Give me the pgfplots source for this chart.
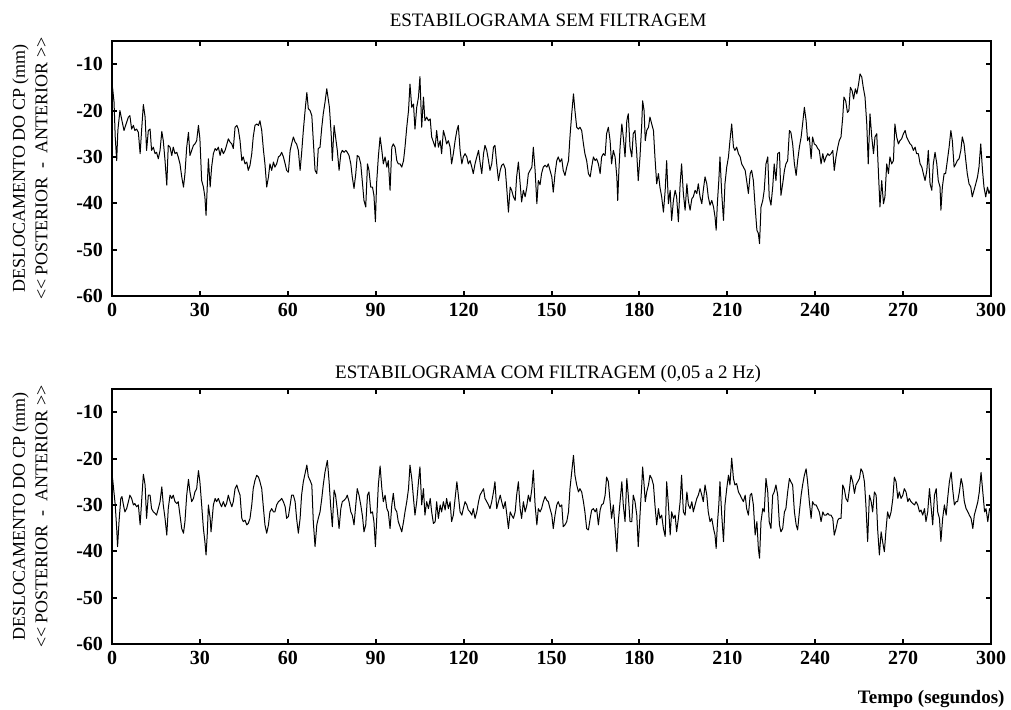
\documentclass[border=0pt]{standalone}
\usepackage{fontspec}
\setmainfont{Liberation Serif}
\usepackage{pgfplots}
\usepackage{pgfplotstable}
\pgfplotsset{compat=1.18}

% Raw stabilogram (anterior-posterior CP displacement, mm)
\pgfplotstableread[row sep=\\]{
t y\\
0.0 -18.0\\ 0.2 -15.1\\ 0.7 -18.2\\ 1.1 -25.7\\ 1.6 -30.8\\ 2.0 -24.3\\ 2.7 -20.0\\ 3.4 -22.2\\ 4.1 -24.3\\ 4.8 -22.9\\
5.6 -21.4\\ 6.1 -21.1\\ 6.7 -24.0\\ 7.3 -23.2\\ 7.8 -24.3\\ 8.4 -24.0\\ 9.0 -24.7\\ 9.6 -29.3\\ 10.1 -24.3\\ 10.7 -18.7\\
11.3 -21.4\\ 11.8 -28.6\\ 12.4 -24.3\\ 13.0 -24.0\\ 13.5 -28.6\\ 14.1 -27.9\\ 14.7 -29.3\\ 15.2 -29.0\\ 15.8 -30.4\\ 16.4 -28.6\\
17.0 -24.5\\ 17.5 -26.5\\ 18.1 -30.8\\ 18.7 -36.1\\ 19.2 -27.5\\ 19.8 -27.9\\ 20.4 -29.7\\ 20.9 -27.9\\ 21.5 -29.3\\ 22.1 -29.0\\
22.6 -30.0\\ 23.2 -31.5\\ 23.8 -34.3\\ 24.4 -36.5\\ 24.9 -33.6\\ 25.5 -27.9\\ 26.1 -24.7\\ 26.6 -29.7\\ 27.2 -28.6\\ 27.8 -27.5\\
28.3 -27.2\\ 28.9 -26.5\\ 29.5 -23.2\\ 30.0 -26.1\\ 30.6 -35.1\\ 31.2 -36.5\\ 31.7 -38.6\\ 32.1 -42.6\\ 32.5 -36.5\\ 32.9 -30.4\\
33.5 -36.5\\ 34.0 -32.2\\ 34.6 -29.3\\ 35.2 -28.2\\ 35.7 -28.6\\ 36.3 -27.9\\ 36.9 -29.7\\ 37.4 -28.2\\ 38.0 -29.3\\ 38.6 -28.6\\
39.1 -27.5\\ 39.7 -26.1\\ 40.3 -26.8\\ 40.9 -27.2\\ 41.4 -28.2\\ 42.0 -23.6\\ 42.6 -23.2\\ 43.1 -24.0\\ 43.7 -26.5\\ 44.3 -30.8\\
44.8 -30.0\\ 45.4 -31.5\\ 46.0 -31.1\\ 46.5 -32.9\\ 47.1 -31.8\\ 47.7 -29.3\\ 48.2 -25.7\\ 48.8 -23.2\\ 49.4 -22.9\\ 50.0 -23.2\\
50.5 -22.2\\ 51.1 -24.3\\ 51.7 -28.6\\ 52.2 -31.5\\ 52.8 -36.5\\ 53.4 -34.3\\ 53.9 -31.5\\ 54.5 -32.9\\ 55.1 -31.1\\ 55.6 -32.2\\
56.2 -31.5\\ 56.8 -30.0\\ 57.4 -29.7\\ 57.9 -29.0\\ 58.5 -30.0\\ 59.1 -31.5\\ 59.6 -32.9\\ 60.2 -33.3\\ 60.8 -28.6\\ 61.3 -27.2\\
61.9 -25.7\\ 62.5 -26.8\\ 63.0 -27.2\\ 63.6 -28.6\\ 64.2 -32.9\\ 64.7 -29.3\\ 65.3 -24.3\\ 65.9 -20.0\\ 66.5 -16.1\\ 67.0 -19.6\\
67.6 -20.0\\ 68.2 -21.1\\ 68.7 -26.5\\ 69.3 -32.9\\ 69.9 -33.6\\ 70.4 -28.2\\ 71.0 -27.9\\ 71.6 -23.6\\ 72.1 -20.7\\ 72.7 -18.2\\
73.3 -15.3\\ 74.2 -19.3\\ 74.8 -25.0\\ 75.2 -30.8\\ 75.8 -23.2\\ 76.3 -25.7\\ 76.9 -28.6\\ 77.5 -32.9\\ 78.1 -29.3\\ 78.6 -28.6\\
79.2 -29.0\\ 79.8 -28.6\\ 80.3 -29.0\\ 80.9 -29.7\\ 81.5 -31.5\\ 82.0 -34.3\\ 82.6 -36.8\\ 83.2 -33.6\\ 83.7 -29.7\\ 84.3 -30.0\\
84.9 -31.5\\ 85.5 -35.8\\ 86.0 -39.4\\ 86.6 -40.8\\ 87.2 -31.5\\ 87.7 -32.9\\ 88.3 -36.5\\ 88.9 -36.5\\ 89.4 -38.3\\ 89.9 -44.0\\
90.3 -35.8\\ 90.9 -30.0\\ 91.5 -25.7\\ 92.1 -28.6\\ 92.6 -31.5\\ 93.2 -30.0\\ 93.8 -32.2\\ 94.3 -30.8\\ 94.9 -37.2\\ 95.5 -27.9\\
96.0 -27.2\\ 96.6 -27.9\\ 97.2 -30.8\\ 97.7 -31.5\\ 98.3 -31.5\\ 98.9 -32.2\\ 99.5 -30.8\\ 100.0 -27.9\\ 100.6 -23.6\\ 101.2 -20.0\\
101.7 -14.3\\ 102.3 -19.3\\ 102.9 -18.6\\ 103.4 -24.0\\ 104.0 -19.3\\ 104.6 -17.1\\ 105.1 -12.7\\ 105.7 -23.6\\ 106.3 -17.1\\ 106.8 -22.2\\
107.4 -21.4\\ 108.0 -22.2\\ 108.6 -21.8\\ 109.1 -25.7\\ 109.7 -26.8\\ 110.3 -27.9\\ 110.8 -24.3\\ 111.4 -27.9\\ 112.0 -26.5\\ 112.5 -29.3\\
113.1 -24.3\\ 113.7 -25.7\\ 114.2 -27.2\\ 114.8 -26.5\\ 115.4 -27.9\\ 115.9 -31.5\\ 116.5 -29.3\\ 117.1 -26.5\\ 117.7 -24.3\\ 118.2 -23.2\\
118.8 -28.6\\ 119.4 -31.5\\ 119.9 -30.0\\ 120.5 -29.3\\ 121.1 -30.0\\ 121.6 -31.5\\ 122.2 -30.8\\ 122.8 -32.2\\ 123.3 -33.6\\ 123.9 -31.5\\
124.5 -30.0\\ 125.1 -28.6\\ 125.6 -31.1\\ 126.2 -33.6\\ 126.8 -29.3\\ 127.3 -27.5\\ 127.9 -28.6\\ 128.5 -30.8\\ 129.0 -32.9\\ 129.6 -31.5\\
130.2 -27.9\\ 130.7 -27.5\\ 131.3 -31.5\\ 131.9 -35.1\\ 132.5 -32.9\\ 133.0 -31.8\\ 133.6 -31.5\\ 134.2 -32.5\\ 134.7 -36.5\\ 135.3 -41.9\\
135.9 -36.5\\ 136.4 -37.2\\ 137.0 -38.6\\ 137.6 -39.4\\ 138.1 -34.3\\ 138.7 -31.1\\ 139.3 -35.8\\ 139.8 -39.7\\ 140.4 -37.2\\ 141.0 -38.6\\
141.6 -36.5\\ 142.1 -33.6\\ 142.7 -32.9\\ 143.3 -32.2\\ 143.8 -27.9\\ 144.4 -32.9\\ 145.0 -40.1\\ 145.5 -35.1\\ 146.1 -36.0\\ 146.6 -33.6\\
147.2 -32.2\\ 147.8 -31.8\\ 148.4 -32.2\\ 148.9 -31.5\\ 149.5 -32.9\\ 150.1 -34.3\\ 150.6 -37.6\\ 151.2 -33.6\\ 151.8 -30.8\\ 152.3 -30.0\\
152.9 -31.1\\ 153.5 -30.4\\ 154.0 -32.9\\ 154.6 -34.0\\ 155.2 -32.2\\ 155.8 -30.8\\ 156.3 -25.7\\ 156.9 -20.7\\ 157.5 -16.4\\ 158.0 -20.0\\
158.6 -23.6\\ 159.2 -24.0\\ 159.7 -23.6\\ 160.3 -24.3\\ 160.9 -27.2\\ 161.4 -29.3\\ 162.0 -30.8\\ 162.6 -33.6\\ 163.2 -34.3\\ 163.7 -32.2\\
164.3 -30.0\\ 164.9 -30.8\\ 165.4 -30.4\\ 166.0 -31.5\\ 166.6 -33.6\\ 167.1 -30.0\\ 167.7 -29.3\\ 168.3 -29.7\\ 168.8 -25.0\\ 169.4 -23.6\\
170.0 -26.5\\ 170.5 -31.5\\ 171.1 -28.6\\ 171.7 -30.0\\ 172.3 -34.3\\ 172.6 -39.4\\ 173.0 -32.9\\ 173.4 -27.9\\ 174.0 -22.9\\ 174.5 -25.7\\
175.1 -30.0\\ 175.7 -22.2\\ 176.2 -20.7\\ 176.8 -27.9\\ 177.4 -30.0\\ 177.9 -25.0\\ 178.5 -24.3\\ 179.1 -29.3\\ 179.6 -35.1\\ 180.2 -30.0\\
180.8 -22.9\\ 181.1 -17.9\\ 181.6 -20.0\\ 182.0 -26.5\\ 182.5 -24.3\\ 183.1 -23.6\\ 183.6 -21.4\\ 184.2 -22.9\\ 184.8 -24.3\\ 185.3 -30.0\\
185.9 -35.8\\ 186.5 -33.6\\ 187.0 -36.5\\ 187.6 -38.6\\ 188.2 -41.9\\ 188.8 -37.2\\ 189.3 -30.8\\ 189.9 -40.1\\ 190.5 -37.2\\ 191.0 -43.7\\
191.6 -39.4\\ 192.2 -37.2\\ 192.7 -38.6\\ 193.3 -44.0\\ 193.9 -35.8\\ 194.4 -31.5\\ 195.0 -37.9\\ 195.6 -41.5\\ 196.2 -35.8\\ 196.7 -39.4\\
197.3 -41.5\\ 197.9 -39.0\\ 198.4 -38.6\\ 199.0 -37.2\\ 199.6 -37.9\\ 200.1 -35.8\\ 200.7 -38.6\\ 201.3 -40.1\\ 201.8 -37.2\\ 202.4 -34.3\\
203.0 -35.8\\ 203.5 -38.6\\ 204.1 -40.4\\ 204.7 -39.4\\ 205.3 -40.8\\ 205.8 -42.9\\ 206.2 -45.8\\ 206.6 -40.1\\ 207.1 -35.1\\ 207.5 -30.0\\
208.1 -37.9\\ 208.7 -43.7\\ 209.2 -35.8\\ 209.8 -32.2\\ 210.4 -30.0\\ 210.9 -26.5\\ 211.5 -22.9\\ 212.1 -27.9\\ 212.6 -28.6\\ 213.2 -27.9\\
213.8 -29.3\\ 214.4 -30.0\\ 214.9 -31.5\\ 215.5 -32.2\\ 216.1 -32.9\\ 216.6 -35.1\\ 217.2 -37.9\\ 217.8 -33.6\\ 218.3 -32.9\\ 218.9 -35.1\\
219.5 -40.8\\ 220.1 -45.8\\ 220.6 -46.5\\ 221.0 -48.7\\ 221.5 -40.8\\ 222.1 -39.4\\ 222.6 -37.2\\ 223.2 -31.5\\ 223.8 -30.0\\ 224.3 -38.6\\
224.9 -40.4\\ 225.5 -36.5\\ 226.0 -31.5\\ 226.6 -35.1\\ 227.2 -29.3\\ 227.8 -29.0\\ 228.3 -38.3\\ 228.9 -35.8\\ 229.5 -32.9\\ 230.0 -31.5\\
230.6 -30.8\\ 231.2 -24.3\\ 231.7 -24.7\\ 232.3 -27.2\\ 232.9 -31.5\\ 233.5 -34.0\\ 234.0 -30.8\\ 234.6 -27.9\\ 235.2 -25.7\\ 235.7 -22.9\\
236.3 -19.3\\ 236.9 -22.2\\ 237.4 -26.5\\ 238.0 -25.7\\ 238.6 -30.4\\ 239.1 -25.7\\ 239.7 -27.2\\ 240.3 -27.5\\ 240.9 -28.2\\ 241.4 -28.6\\
242.0 -31.5\\ 242.6 -29.3\\ 243.1 -31.1\\ 243.7 -30.0\\ 244.3 -29.3\\ 244.8 -29.7\\ 245.4 -29.3\\ 246.0 -28.6\\ 246.5 -32.9\\ 247.1 -30.0\\
247.7 -27.9\\ 248.2 -26.5\\ 248.8 -25.7\\ 249.4 -21.4\\ 249.8 -17.1\\ 250.4 -17.9\\ 251.0 -20.4\\ 251.5 -20.0\\ 252.0 -15.0\\ 252.6 -15.7\\
253.1 -17.5\\ 253.7 -15.3\\ 254.2 -16.4\\ 254.8 -14.3\\ 255.3 -12.1\\ 255.9 -12.8\\ 256.4 -15.0\\ 257.0 -17.1\\ 257.6 -22.9\\ 258.1 -31.5\\
258.7 -20.7\\ 259.3 -25.7\\ 259.9 -29.3\\ 260.4 -25.7\\ 261.0 -25.0\\ 261.6 -33.6\\ 262.1 -40.8\\ 262.7 -35.1\\ 263.3 -40.1\\ 263.8 -38.6\\
264.4 -31.5\\ 265.0 -33.6\\ 265.5 -30.0\\ 266.1 -31.5\\ 266.7 -30.8\\ 267.2 -22.9\\ 267.8 -25.7\\ 268.4 -27.2\\ 268.9 -26.5\\ 269.5 -26.1\\
270.1 -25.0\\ 270.7 -24.3\\ 271.2 -25.7\\ 271.8 -26.5\\ 272.4 -27.2\\ 272.9 -27.5\\ 273.5 -28.6\\ 274.1 -27.9\\ 274.6 -29.3\\ 275.2 -29.3\\
275.8 -31.5\\ 276.4 -32.2\\ 276.9 -33.6\\ 277.5 -35.1\\ 278.1 -32.9\\ 278.6 -28.6\\ 279.2 -35.8\\ 279.8 -37.2\\ 280.3 -31.5\\ 280.9 -29.0\\
281.5 -31.5\\ 282.0 -35.1\\ 282.6 -36.5\\ 282.9 -41.5\\ 283.4 -36.5\\ 284.0 -33.6\\ 284.5 -33.6\\ 285.1 -30.8\\ 285.7 -27.9\\ 286.3 -24.3\\
286.8 -26.5\\ 287.4 -32.2\\ 288.0 -31.5\\ 288.5 -30.8\\ 289.1 -30.4\\ 289.7 -28.6\\ 290.2 -25.7\\ 290.8 -27.2\\ 291.4 -30.8\\ 291.9 -33.6\\
292.5 -35.8\\ 293.1 -36.5\\ 293.6 -38.6\\ 294.2 -37.2\\ 294.8 -35.8\\ 295.4 -34.3\\ 295.9 -32.2\\ 296.5 -27.2\\ 297.1 -32.9\\ 297.6 -36.5\\
298.2 -38.6\\ 298.8 -36.5\\ 299.3 -37.9\\ 299.7 -37.2\\ 300.0 -37.0\\
}\rawdata

% Band-pass filtered stabilogram (0.05 to 2 Hz)
\pgfplotstableread[row sep=\\]{
t y\\
0.0 -25.0\\ 0.2 -24.3\\ 1.1 -30.0\\ 1.6 -35.1\\ 1.9 -39.0\\ 2.4 -33.6\\ 3.0 -28.6\\ 3.4 -28.2\\ 3.9 -30.0\\ 4.4 -31.5\\
5.0 -30.8\\ 5.6 -29.3\\ 6.1 -27.9\\ 6.7 -28.6\\ 7.3 -30.0\\ 7.8 -29.7\\ 8.4 -30.4\\ 9.0 -30.0\\ 9.6 -34.3\\ 10.1 -29.3\\
10.7 -23.4\\ 11.3 -25.7\\ 11.8 -32.9\\ 12.4 -27.9\\ 13.0 -27.9\\ 13.5 -30.8\\ 14.1 -31.5\\ 14.7 -31.8\\ 15.2 -32.2\\ 15.8 -30.8\\
16.4 -29.3\\ 17.0 -26.1\\ 17.5 -30.0\\ 18.1 -32.9\\ 18.7 -36.5\\ 19.2 -30.8\\ 19.8 -27.9\\ 20.4 -28.6\\ 20.9 -27.9\\ 21.5 -29.3\\
22.1 -29.7\\ 22.6 -29.3\\ 23.2 -32.2\\ 23.8 -35.1\\ 24.4 -36.1\\ 24.9 -33.6\\ 25.5 -27.9\\ 26.1 -24.5\\ 26.6 -27.2\\ 27.2 -29.3\\
27.8 -28.6\\ 28.3 -27.2\\ 28.9 -26.5\\ 29.5 -22.6\\ 30.0 -25.0\\ 30.6 -30.0\\ 31.2 -35.1\\ 31.7 -37.9\\ 32.1 -40.8\\ 32.5 -36.5\\
32.9 -30.0\\ 33.5 -32.9\\ 33.8 -35.8\\ 34.3 -32.2\\ 34.6 -30.0\\ 35.2 -28.6\\ 35.7 -29.3\\ 36.3 -28.6\\ 36.9 -29.7\\ 37.4 -30.4\\
38.0 -29.3\\ 38.6 -30.4\\ 39.1 -29.7\\ 39.7 -27.9\\ 40.3 -29.3\\ 40.9 -30.4\\ 41.4 -29.3\\ 42.0 -26.5\\ 42.6 -25.7\\ 43.1 -26.8\\
43.7 -27.9\\ 44.3 -32.9\\ 44.8 -33.6\\ 45.4 -33.3\\ 46.0 -34.3\\ 46.5 -34.0\\ 47.1 -32.9\\ 47.7 -30.0\\ 48.2 -26.5\\ 48.8 -24.7\\
49.4 -23.6\\ 50.0 -24.0\\ 50.5 -25.0\\ 51.1 -26.5\\ 51.7 -30.8\\ 52.2 -34.3\\ 52.8 -36.1\\ 53.4 -34.3\\ 53.9 -31.5\\ 54.5 -30.8\\
55.1 -31.5\\ 55.6 -31.5\\ 56.2 -30.0\\ 56.8 -29.3\\ 57.4 -29.0\\ 57.9 -28.6\\ 58.5 -29.3\\ 59.1 -30.4\\ 59.6 -32.9\\ 60.2 -32.5\\
60.8 -30.0\\ 61.3 -27.9\\ 61.9 -27.9\\ 62.5 -29.3\\ 63.0 -32.9\\ 63.6 -36.1\\ 64.2 -32.9\\ 64.7 -27.9\\ 65.3 -25.0\\ 65.9 -23.2\\
66.5 -21.4\\ 67.0 -23.9\\ 67.6 -24.7\\ 68.2 -25.7\\ 68.7 -33.6\\ 69.3 -39.0\\ 69.9 -34.3\\ 70.4 -32.9\\ 71.0 -31.5\\ 71.6 -28.6\\
72.1 -25.7\\ 72.7 -22.9\\ 73.5 -20.4\\ 74.1 -25.0\\ 74.6 -30.0\\ 75.2 -34.7\\ 75.8 -26.8\\ 76.3 -27.9\\ 76.9 -31.1\\ 77.5 -35.1\\
78.1 -30.8\\ 78.6 -29.3\\ 79.2 -29.0\\ 79.8 -28.6\\ 80.3 -27.9\\ 80.9 -29.3\\ 81.5 -31.5\\ 82.0 -32.2\\ 82.6 -34.3\\ 83.2 -30.0\\
83.7 -26.5\\ 84.3 -27.9\\ 84.9 -30.0\\ 85.5 -32.5\\ 86.0 -35.8\\ 86.6 -34.3\\ 87.2 -27.9\\ 87.7 -27.2\\ 88.3 -31.8\\ 88.9 -31.5\\
89.4 -33.6\\ 89.9 -39.0\\ 90.3 -33.6\\ 90.9 -25.7\\ 91.5 -21.6\\ 92.1 -26.5\\ 92.6 -29.3\\ 93.2 -27.9\\ 93.8 -30.8\\ 94.3 -31.5\\
94.9 -35.1\\ 95.5 -30.0\\ 96.0 -27.5\\ 96.6 -30.8\\ 97.2 -31.5\\ 97.7 -33.6\\ 98.3 -34.7\\ 98.9 -35.8\\ 99.5 -33.6\\ 100.0 -31.5\\
100.6 -29.3\\ 101.2 -26.5\\ 101.7 -21.4\\ 102.3 -24.3\\ 102.9 -28.6\\ 103.4 -32.2\\ 104.0 -29.3\\ 104.6 -25.0\\ 105.1 -21.8\\ 105.7 -30.0\\
106.3 -26.5\\ 106.8 -32.2\\ 107.4 -29.3\\ 108.0 -30.8\\ 108.6 -28.6\\ 109.1 -31.5\\ 109.7 -34.0\\ 110.3 -33.6\\ 110.8 -29.3\\ 111.4 -32.9\\
112.0 -30.0\\ 112.5 -31.5\\ 113.1 -29.3\\ 113.7 -31.1\\ 114.2 -28.6\\ 114.8 -30.8\\ 115.4 -29.3\\ 115.9 -33.6\\ 116.5 -32.2\\ 117.1 -28.6\\
117.7 -25.0\\ 118.2 -27.9\\ 118.8 -31.5\\ 119.4 -32.2\\ 119.9 -30.8\\ 120.5 -29.3\\ 121.1 -30.0\\ 121.6 -31.1\\ 122.2 -31.5\\ 122.8 -32.2\\
123.3 -30.8\\ 123.9 -32.9\\ 124.5 -31.5\\ 125.1 -29.3\\ 125.6 -27.9\\ 126.2 -27.2\\ 126.8 -26.5\\ 127.3 -28.6\\ 127.9 -29.3\\ 128.5 -30.0\\
129.0 -30.8\\ 129.6 -29.3\\ 130.2 -27.2\\ 130.7 -25.0\\ 131.3 -30.8\\ 131.9 -29.3\\ 132.5 -27.9\\ 133.0 -29.3\\ 133.6 -30.8\\ 134.2 -29.3\\
134.7 -31.8\\ 135.3 -35.1\\ 135.9 -31.5\\ 136.4 -32.2\\ 137.0 -32.9\\ 137.6 -31.5\\ 138.1 -27.9\\ 138.7 -25.0\\ 139.3 -30.8\\ 139.8 -32.9\\
140.4 -29.3\\ 141.0 -31.5\\ 141.6 -30.0\\ 142.1 -27.9\\ 142.7 -29.3\\ 143.3 -26.5\\ 143.8 -22.5\\ 144.4 -30.0\\ 145.0 -34.3\\ 145.5 -30.8\\
146.1 -31.5\\ 146.6 -30.8\\ 147.2 -29.3\\ 147.8 -28.2\\ 148.4 -29.0\\ 148.9 -29.3\\ 149.5 -30.8\\ 150.1 -32.2\\ 150.6 -35.1\\ 151.2 -32.2\\
151.8 -30.0\\ 152.3 -29.3\\ 152.9 -30.4\\ 153.5 -30.0\\ 154.0 -34.7\\ 154.6 -34.3\\ 155.2 -33.6\\ 155.8 -31.5\\ 156.3 -26.5\\ 156.9 -22.9\\
157.5 -19.3\\ 158.0 -23.6\\ 158.6 -25.7\\ 159.2 -27.2\\ 159.7 -26.5\\ 160.3 -27.2\\ 160.9 -29.3\\ 161.4 -31.5\\ 162.0 -35.1\\ 162.6 -35.4\\
163.2 -32.9\\ 163.7 -31.1\\ 164.3 -30.8\\ 164.9 -31.5\\ 165.4 -30.8\\ 166.0 -34.3\\ 166.6 -31.1\\ 167.1 -30.0\\ 167.7 -29.7\\ 168.3 -27.9\\
168.8 -24.0\\ 169.4 -25.0\\ 170.0 -29.3\\ 170.5 -32.9\\ 171.1 -30.0\\ 171.7 -35.1\\ 172.3 -40.1\\ 172.8 -33.6\\ 173.4 -29.3\\ 174.0 -25.0\\
174.5 -30.0\\ 175.1 -33.6\\ 175.7 -24.3\\ 176.2 -27.9\\ 176.8 -33.6\\ 177.4 -33.6\\ 177.9 -27.9\\ 178.5 -29.3\\ 179.1 -32.2\\ 179.6 -39.0\\
180.2 -32.2\\ 180.8 -25.7\\ 181.1 -21.8\\ 181.6 -25.7\\ 182.0 -29.3\\ 182.5 -27.2\\ 183.1 -25.7\\ 183.6 -23.6\\ 184.2 -24.3\\ 184.8 -25.7\\
185.3 -30.0\\ 185.9 -34.3\\ 186.5 -30.8\\ 187.0 -32.9\\ 187.6 -32.2\\ 188.2 -35.1\\ 188.8 -36.8\\ 189.3 -25.0\\ 189.9 -30.0\\ 190.5 -36.5\\
191.0 -31.5\\ 191.6 -32.9\\ 192.2 -32.2\\ 192.7 -35.8\\ 193.3 -32.9\\ 193.9 -29.3\\ 194.4 -23.6\\ 195.0 -31.5\\ 195.6 -32.2\\ 196.2 -27.2\\
196.7 -30.0\\ 197.3 -30.8\\ 197.9 -29.3\\ 198.4 -31.5\\ 199.0 -30.0\\ 199.6 -28.6\\ 200.1 -27.9\\ 200.7 -26.5\\ 201.3 -27.9\\ 201.8 -29.3\\
202.4 -25.7\\ 203.0 -27.9\\ 203.5 -31.5\\ 204.1 -33.6\\ 204.7 -32.9\\ 205.3 -35.1\\ 205.8 -36.5\\ 206.2 -39.4\\ 206.6 -34.3\\ 207.1 -30.0\\
207.5 -25.0\\ 208.1 -32.2\\ 208.7 -37.9\\ 209.2 -30.0\\ 209.8 -26.5\\ 210.4 -23.6\\ 210.9 -25.7\\ 211.5 -19.9\\ 212.1 -24.3\\ 212.6 -25.7\\
213.2 -25.4\\ 213.8 -27.2\\ 214.4 -27.9\\ 214.9 -28.6\\ 215.5 -29.3\\ 216.1 -27.9\\ 216.6 -30.8\\ 217.2 -32.2\\ 217.8 -27.9\\ 218.3 -27.5\\
218.9 -30.0\\ 219.5 -36.5\\ 220.1 -33.6\\ 220.6 -39.4\\ 221.0 -41.5\\ 221.5 -33.6\\ 222.1 -30.8\\ 222.6 -31.5\\ 223.2 -24.3\\ 223.8 -27.2\\
224.3 -33.6\\ 224.9 -35.1\\ 225.5 -27.9\\ 226.0 -27.2\\ 226.6 -25.7\\ 227.2 -27.9\\ 227.8 -34.3\\ 228.3 -35.8\\ 228.9 -35.1\\ 229.5 -31.5\\
230.0 -30.8\\ 230.6 -27.2\\ 231.2 -24.3\\ 231.7 -25.0\\ 232.3 -25.7\\ 232.9 -31.5\\ 233.5 -34.3\\ 234.0 -35.4\\ 234.6 -31.5\\ 235.2 -27.9\\
235.7 -25.7\\ 236.3 -23.6\\ 236.9 -22.2\\ 237.4 -25.0\\ 238.0 -29.3\\ 238.6 -32.9\\ 239.1 -29.3\\ 239.7 -30.0\\ 240.3 -30.0\\ 240.9 -30.8\\
241.4 -31.5\\ 242.0 -33.6\\ 242.6 -31.5\\ 243.1 -32.2\\ 243.7 -32.2\\ 244.3 -31.8\\ 244.8 -32.2\\ 245.4 -32.2\\ 246.0 -32.9\\ 246.5 -36.5\\
247.1 -35.1\\ 247.7 -33.3\\ 248.2 -32.9\\ 248.8 -32.9\\ 249.4 -25.7\\ 249.9 -26.5\\ 250.5 -28.6\\ 251.1 -29.3\\ 251.7 -26.5\\ 252.2 -23.6\\
252.8 -25.0\\ 253.4 -27.5\\ 253.9 -25.7\\ 254.5 -25.0\\ 255.1 -24.3\\ 255.6 -22.2\\ 256.2 -22.9\\ 256.8 -25.0\\ 257.3 -30.0\\ 257.9 -37.9\\
258.5 -27.9\\ 259.1 -29.3\\ 259.6 -31.5\\ 260.2 -27.2\\ 260.8 -27.9\\ 261.3 -35.1\\ 261.9 -40.8\\ 262.5 -35.8\\ 263.0 -37.9\\ 263.6 -40.1\\
264.2 -35.1\\ 264.7 -31.5\\ 265.3 -32.9\\ 265.9 -31.5\\ 266.5 -28.6\\ 267.0 -24.0\\ 267.6 -25.0\\ 268.2 -28.6\\ 268.7 -27.2\\ 269.3 -28.6\\
269.9 -27.9\\ 270.4 -26.5\\ 271.0 -27.2\\ 271.6 -29.3\\ 272.1 -28.6\\ 272.7 -29.3\\ 273.3 -29.7\\ 273.9 -30.0\\ 274.4 -29.3\\ 275.0 -30.0\\
275.6 -31.5\\ 276.1 -31.1\\ 276.7 -32.2\\ 277.3 -30.8\\ 277.8 -33.6\\ 278.4 -31.5\\ 279.0 -26.5\\ 279.5 -30.0\\ 280.1 -34.3\\ 280.7 -27.9\\
281.3 -26.5\\ 281.8 -31.5\\ 282.4 -32.9\\ 282.9 -37.9\\ 283.5 -32.9\\ 284.1 -30.0\\ 284.7 -32.2\\ 285.2 -28.6\\ 285.8 -25.0\\ 286.4 -22.9\\
286.9 -26.5\\ 287.5 -30.0\\ 288.1 -29.3\\ 288.6 -29.3\\ 289.2 -27.2\\ 289.8 -24.3\\ 290.3 -25.7\\ 290.9 -29.3\\ 291.5 -30.8\\ 292.1 -31.5\\
292.6 -32.2\\ 293.2 -32.9\\ 293.8 -35.1\\ 294.3 -32.2\\ 294.9 -30.8\\ 295.5 -29.3\\ 296.0 -27.2\\ 296.6 -23.0\\ 297.2 -27.2\\ 297.8 -31.5\\
298.3 -30.8\\ 298.9 -33.6\\ 299.5 -30.8\\ 300.0 -31.5\\
}\filtdata

\pgfplotsset{
  stab/.style={
    scale only axis, width=439.5pt, height=127.5pt,
    xmin=0, xmax=300, ymin=-60, ymax=-5,
    xtick={0,30,...,300}, ytick={-60,-50,-40,-30,-20,-10},
    axis line style={line width=1.4pt},
    tick align=inside, major tick length=2.4pt,
    every tick/.style={black, line width=1pt},
    ticklabel style={font=\bfseries\fontsize{10}{12}\selectfont},
    /pgf/number format/assume math mode=true,
    yticklabel style={xshift=-1pt},
    every axis y label/.style={at={(rel axis cs:0,0.5)}, xshift=-41pt, rotate=90,
      anchor=center, align=center, font=\fontsize{9}{11.3}\selectfont},
    ylabel={DESLOCAMENTO DO CP (mm)\\{<}{<} POSTERIOR\ \ -\ \ ANTERIOR {>}{>}},
    every axis title shift=0pt,
    title style={at={(0.5,1)}, anchor=base, font=\fontsize{9.5}{11}\selectfont},
    clip=true,
  },
  sig/.style={black, line width=0.5pt, no marks, line join=round},
}

\begin{document}
\begin{tikzpicture}
\useasboundingbox (0,0) rectangle (505.5pt,354.5pt);

\begin{axis}[stab, at={(56pt,206.5pt)}, anchor=south west,
  title={ESTABILOGRAMA SEM FILTRAGEM}, title style={yshift=7.2pt, xshift=-1.7pt}]
  \addplot[sig] table[x=t, y=y] {\rawdata};
\end{axis}

\begin{axis}[stab, at={(56pt,32.5pt)}, anchor=south west,
  title={ESTABILOGRAMA COM FILTRAGEM (0,05 a 2 Hz)}, title style={yshift=5.3pt, xshift=-1.7pt},
  xlabel={Tempo (segundos)},
  xlabel style={at={(rel axis cs:0.932,0)}, anchor=base, yshift=-29.5pt,
    font=\bfseries\fontsize{9.5}{11}\selectfont}]
  \addplot[sig] table[x=t, y=y] {\filtdata};
\end{axis}
\end{tikzpicture}
\end{document}
